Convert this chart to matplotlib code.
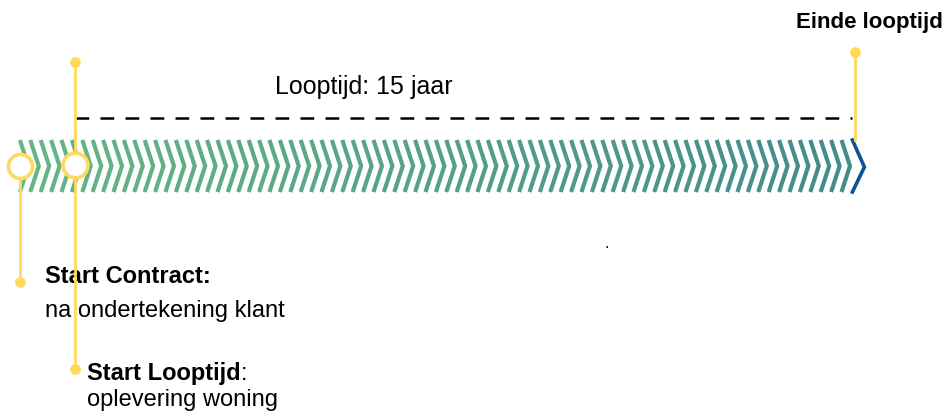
import numpy as np
import matplotlib.pyplot as plt
from matplotlib.colors import LinearSegmentedColormap

plt.rcParams['font.family'] = ['Liberation Sans', 'DejaVu Sans']

# timeline in years (0 = start looptijd)
looptijd_jaren = 15
start_contract = -1.06
start_looptijd = 0
einde_looptijd = 15
chevron_stap = 0.2          # years between arrows
n_chevrons = 80

px = 52.0                   # pixels per year
x0 = 75.0                   # pixel of year 0

fig = plt.figure(figsize=(9.46, 4.14), dpi=100)
ax = fig.add_axes([0, 0, 1, 1])
ax.set_xlim(-x0 / px, (946 - x0) / px)
ax.set_ylim(414, 0)
ax.axis('off')

yellow = '#FFDA5C'
cmap = LinearSegmentedColormap.from_list('g', ['#5DB37E', '#3A8587'])

# chevron band
top, mid, bot = 141, 167, 193
w = 8.5 / px
xs = start_contract + np.arange(n_chevrons) * chevron_stap
for i, xc in enumerate(xs):
    ax.plot([xc, xc + w, xc], [top, mid, bot], color=cmap(i / (n_chevrons - 1)),
            lw=3.0, solid_capstyle='butt', solid_joinstyle='miter', alpha=0.95)
# end arrow
ax.plot([einde_looptijd - 0.05, einde_looptijd - 0.05 + 12 / px, einde_looptijd - 0.05],
        [top, mid + 1, bot], color='#0B5596', lw=2.6, solid_joinstyle='miter')

# dashed span
ax.plot([start_looptijd, einde_looptijd - 0.05], [119, 119], color='black', lw=1.8,
        dashes=(5.5, 4.5))
ax.text((start_looptijd + einde_looptijd) / 2 - 1.95, 94, 'Looptijd: 15 jaar',
        fontsize=18, va='baseline', ha='center')

# start contract marker
ax.plot([start_contract, start_contract], [176, 283], color=yellow, lw=2, zorder=3)
ax.scatter([start_contract], [283], s=45, color=yellow, zorder=4)
ax.scatter([start_contract], [167], s=300, facecolor='white', edgecolor=yellow,
           linewidth=2.6, zorder=4)
ax.text(start_contract + 25 / px, 283, 'Start Contract:', fontsize=17,
        fontweight='bold', va='baseline')
ax.text(start_contract + 25 / px, 317, 'na ondertekening klant', fontsize=17,
        va='baseline')

# start looptijd marker
ax.plot([start_looptijd, start_looptijd], [63, 370], color=yellow, lw=2, zorder=3)
ax.scatter([start_looptijd, start_looptijd], [63, 370], s=45, color=yellow, zorder=4)
ax.scatter([start_looptijd], [166], s=320, facecolor='white', edgecolor=yellow,
           linewidth=2.6, zorder=4)
t = ax.text(start_looptijd + 12 / px, 380, 'Start Looptijd', fontsize=17,
            fontweight='bold', va='baseline')
fig.canvas.draw()
bb = t.get_window_extent()
xe = ax.transData.inverted().transform((bb.x1, 0))[0]
ax.text(xe, 380, ':', fontsize=17, va='baseline')
ax.text(start_looptijd + 12 / px, 406, 'oplevering woning', fontsize=17,
        va='baseline')

# einde looptijd marker
ax.plot([einde_looptijd, einde_looptijd], [53, 141], color=yellow, lw=2, zorder=3)
ax.scatter([einde_looptijd], [53], s=45, color=yellow, zorder=4)
ax.text((943 - x0) / px, 28, 'Einde looptijd', fontsize=16, fontweight='bold',
        ha='right', va='baseline')

ax.text((607 - x0) / px, 248, '.', fontsize=12, ha='center', va='baseline')

fig.savefig('out.png', dpi=100)
